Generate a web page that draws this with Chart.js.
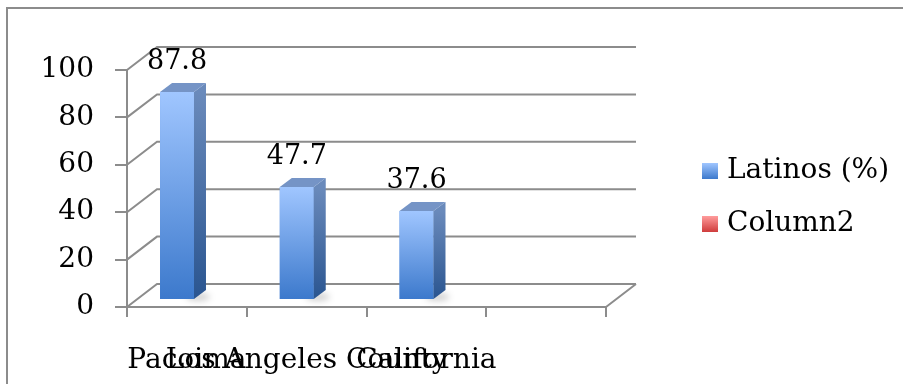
<!DOCTYPE html>
<html>
<head>
<meta charset="utf-8">
<script src="https://cdn.jsdelivr.net/npm/chart.js@4"></script>
<style>
  html, body { margin: 0; padding: 0; background: #fff; }
  #wrap { width: 903px; height: 384px; position: relative; }
</style>
</head>
<body>
<div id="wrap"><canvas id="chart" width="903" height="384"></canvas></div>
<script>
const categories = ["Pacoima", "Los Angeles County", "California", ""];
const latinos = [87.8, 47.7, 37.6, null];
const column2 = [null, null, null, null];
const seriesNames = ["Latinos (%)", "Column2"];
const yTicks = [0, 20, 40, 60, 80, 100];

const FONT = "'DejaVu Serif', serif";
const GRID = "#8c8c8c";
const DEPTH = { x: 30, y: -23 };   // back wall offset
const BAR_SHIFT = { x: 9, y: -7 }; // bar plane offset
const SIDE = { x: 12, y: -9 };     // bar depth

function frontGradient(ctx, top, bottom) {
  const g = ctx.createLinearGradient(0, top, 0, bottom);
  g.addColorStop(0, "#a0c6ff");
  g.addColorStop(1, "#3c79cc");
  return g;
}

const threeD = {
  id: "threeD",
  beforeDraw(chart) {
    const ctx = chart.ctx;
    ctx.save();
    ctx.strokeStyle = GRID;
    ctx.lineWidth = 2;
    ctx.beginPath();
    ctx.moveTo(7, 384);
    ctx.lineTo(7, 8);
    ctx.lineTo(903, 8);
    ctx.stroke();
    ctx.restore();
  },
  beforeDatasetsDraw(chart) {
    const { ctx, chartArea: a, scales: { y } } = chart;
    ctx.save();
    ctx.strokeStyle = GRID;
    ctx.lineWidth = 2;
    ctx.beginPath();
    for (const v of yTicks) {
      const py = y.getPixelForValue(v);
      ctx.moveTo(a.left, py);
      ctx.lineTo(a.left + DEPTH.x, py + DEPTH.y);
      ctx.lineTo(a.right + DEPTH.x, py + DEPTH.y);
    }
    const p0 = y.getPixelForValue(0);
    ctx.moveTo(a.right, p0);
    ctx.lineTo(a.right + DEPTH.x, p0 + DEPTH.y);
    ctx.stroke();
    ctx.restore();

    ctx.save();
    ctx.translate(BAR_SHIFT.x, BAR_SHIFT.y);
    // soft floor shadows
    const meta = chart.getDatasetMeta(0);
    meta.data.forEach((bar, i) => {
      if (latinos[i] == null) return;
      const r = bar.x + bar.width / 2;
      ctx.save();
      ctx.fillStyle = "rgba(0,0,0,0.18)";
      ctx.filter = "blur(3px)";
      ctx.beginPath();
      ctx.ellipse(r + 4, bar.base - 2, 12, 4, 0, 0, Math.PI * 2);
      ctx.fill();
      ctx.restore();
    });
  },
  afterDatasetsDraw(chart) {
    const ctx = chart.ctx;
    const meta = chart.getDatasetMeta(0);
    meta.data.forEach((bar, i) => {
      if (latinos[i] == null) return;
      const l = bar.x - bar.width / 2, r = bar.x + bar.width / 2;
      const t = bar.y, b = bar.base;
      // front face (gradient from each bar's own top to bottom)
      ctx.fillStyle = frontGradient(ctx, t, b);
      ctx.fillRect(l, t, r - l, b - t);
      // side face
      const sg = ctx.createLinearGradient(0, t, 0, b);
      sg.addColorStop(0, "#6a8abb");
      sg.addColorStop(1, "#2a5590");
      ctx.fillStyle = sg;
      ctx.beginPath();
      ctx.moveTo(r, t);
      ctx.lineTo(r + SIDE.x, t + SIDE.y);
      ctx.lineTo(r + SIDE.x, b + SIDE.y);
      ctx.lineTo(r, b);
      ctx.closePath();
      ctx.fill();
      // top face
      ctx.fillStyle = "#7594c6";
      ctx.beginPath();
      ctx.moveTo(l, t);
      ctx.lineTo(l + SIDE.x, t + SIDE.y);
      ctx.lineTo(r + SIDE.x, t + SIDE.y);
      ctx.lineTo(r, t);
      ctx.closePath();
      ctx.fill();
      // value label
      ctx.fillStyle = "#000";
      ctx.font = "27px " + FONT;
      ctx.textAlign = "center";
      ctx.textBaseline = "middle";
      ctx.fillText(String(latinos[i]), bar.x, t - 30);
    });
    ctx.restore();
  },
  afterDraw(chart) {
    const ctx = chart.ctx;
    const cols = [["#a0c6ff", "#3c79cc"], ["#ff9c9c", "#cf3c3c"]];
    ctx.save();
    chart.data.datasets.forEach((ds, i) => {
      const cy = 171 + i * 53;
      const g = ctx.createLinearGradient(0, cy - 8, 0, cy + 8);
      g.addColorStop(0, cols[i][0]);
      g.addColorStop(1, cols[i][1]);
      ctx.fillStyle = g;
      ctx.fillRect(702, cy - 8, 16, 16);
      ctx.fillStyle = "#000";
      ctx.font = "28px " + FONT;
      ctx.textAlign = "left";
      ctx.textBaseline = "middle";
      ctx.fillText(ds.label, 727, cy);
    });
    ctx.restore();
  }
};

new Chart(document.getElementById("chart"), {
  type: "bar",
  data: {
    labels: categories,
    datasets: [
      { label: seriesNames[0], data: latinos, backgroundColor: "#5b8fdc", borderWidth: 0 },
      { label: seriesNames[1], data: column2, backgroundColor: "#e05050", borderWidth: 0 }
    ]
  },
  options: {
    responsive: false,
    animation: false,
    categoryPercentage: 0.63,
    barPercentage: 0.9,
    layout: { padding: { top: 70, right: 297, left: 0, bottom: 0 } },
    plugins: { legend: { display: false }, tooltip: { enabled: false } },
    scales: {
      x: {
        afterFit: s => { s.height = 77; },
        grid: { display: true, drawOnChartArea: false, drawTicks: true, tickLength: 10, color: GRID, lineWidth: 2, offset: true },
        border: { display: true, color: GRID, width: 2 },
        ticks: { autoSkip: false, maxRotation: 0, minRotation: 0, padding: 27, color: "#000", font: { family: FONT, size: 28 } }
      },
      y: {
        min: 0, max: 100,
        afterFit: s => { s.width = 127; },
        afterBuildTicks: s => { s.ticks = yTicks.map(v => ({ value: v })); },
        grid: { display: true, drawOnChartArea: false, drawTicks: true, tickLength: 12, color: GRID, lineWidth: 2 },
        border: { display: true, color: GRID, width: 2 },
        ticks: { padding: 21, color: "#000", font: { family: FONT, size: 28 } }
      }
    }
  },
  plugins: [threeD]
});
</script>
</body>
</html>
